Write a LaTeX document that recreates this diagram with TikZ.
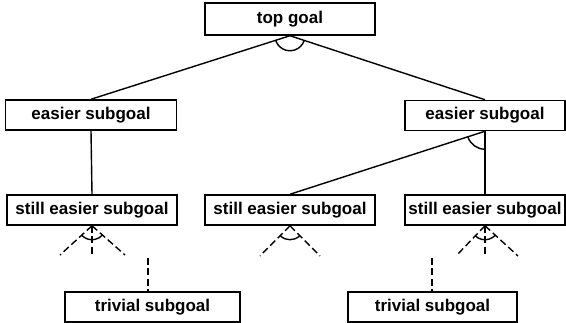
\documentclass[tikz,border=0pt]{standalone}
\usepackage{fontspec}
\setmainfont{Liberation Sans}
\usetikzlibrary{angles,calc}
\begin{document}
\begin{tikzpicture}[x=1pt,y=1pt,
  goalbox/.style={draw,line width=1.5pt,rectangle,minimum height=30pt,inner sep=0pt,
    font=\fontsize{17}{20}\selectfont\bfseries},
  link/.style={line width=1.4pt},
  dashlink/.style={line width=1.4pt,dash pattern=on 7pt off 3.5pt},
  andarc/.style={draw,line width=1.4pt}]
\useasboundingbox (0,0) rectangle (566,-323);

% goal boxes
\node[goalbox,minimum width=170pt,minimum height=32pt] (top) at (290,-19) {top goal};
\node[goalbox,minimum width=171pt] (eL) at (91,-115) {easier subgoal};
\node[goalbox,minimum width=160pt] (eR) at (485,-115.5) {easier subgoal};
\node[goalbox,minimum width=170pt] (sL) at (92,-210) {still easier subgoal};
\node[goalbox,minimum width=170pt] (sM) at (290,-210) {still easier subgoal};
\node[goalbox,minimum width=160pt] (sR) at (485,-210) {still easier subgoal};
\node[goalbox,minimum width=175pt] (tL) at (152.5,-307) {trivial subgoal};
\node[goalbox,minimum width=169pt] (tR) at (432.5,-307) {trivial subgoal};

% attachment points
\coordinate (topS) at (top.south);
\coordinate (eLN) at (eL.north);
\coordinate (eRN) at (eR.north);
\coordinate (eRS) at (eR.south);
\coordinate (sMN) at (sM.north);
\coordinate (sRN) at (sR.north);
\coordinate (sLS) at (sL.south);
\coordinate (sMS) at (sM.south);
\coordinate (sRS) at (sR.south);

% loose dashed ends
\coordinate (dL1) at (60,-255);
\coordinate (dL2) at (92,-255);
\coordinate (dL3) at (125,-255);
\coordinate (dM1) at (260,-256);
\coordinate (dM3) at (320,-256);
\coordinate (dR1) at (456,-256);
\coordinate (dR2) at (485,-256);
\coordinate (dR3) at (518,-256);
\coordinate (qL) at (148,-258);
\coordinate (qR) at (432,-258);

% solid links
\draw[link] (topS) -- (eLN);
\draw[link] (topS) -- (eRN);
\draw[link] (eL.south) -- (sL.north);
\draw[link] (eRS) -- (sMN);
\draw[link] (eRS) -- (sRN);

% dashed links
\draw[dashlink] (sLS) -- (dL1);
\draw[dashlink] (sLS) -- (dL2);
\draw[dashlink] (sLS) -- (dL3);
\draw[dashlink] (sMS) -- (dM1);
\draw[dashlink] (sMS) -- (dM3);
\draw[dashlink] (sRS) -- (dR1);
\draw[dashlink] (sRS) -- (dR2);
\draw[dashlink] (sRS) -- (dR3);
\draw[dashlink] (qL) -- (qL |- tL.north);
\draw[dashlink] (qR) -- (qR |- tR.north);

% AND arcs
\pic[andarc,angle radius=15pt] {angle = eLN--topS--eRN};
\pic[andarc,angle radius=18pt] {angle = sMN--eRS--sRN};
\pic[andarc,angle radius=14pt] {angle = dL1--sLS--dL3};
\pic[andarc,angle radius=14pt] {angle = dM1--sMS--dM3};
\pic[andarc,angle radius=14pt] {angle = dR1--sRS--dR3};
\end{tikzpicture}
\end{document}
